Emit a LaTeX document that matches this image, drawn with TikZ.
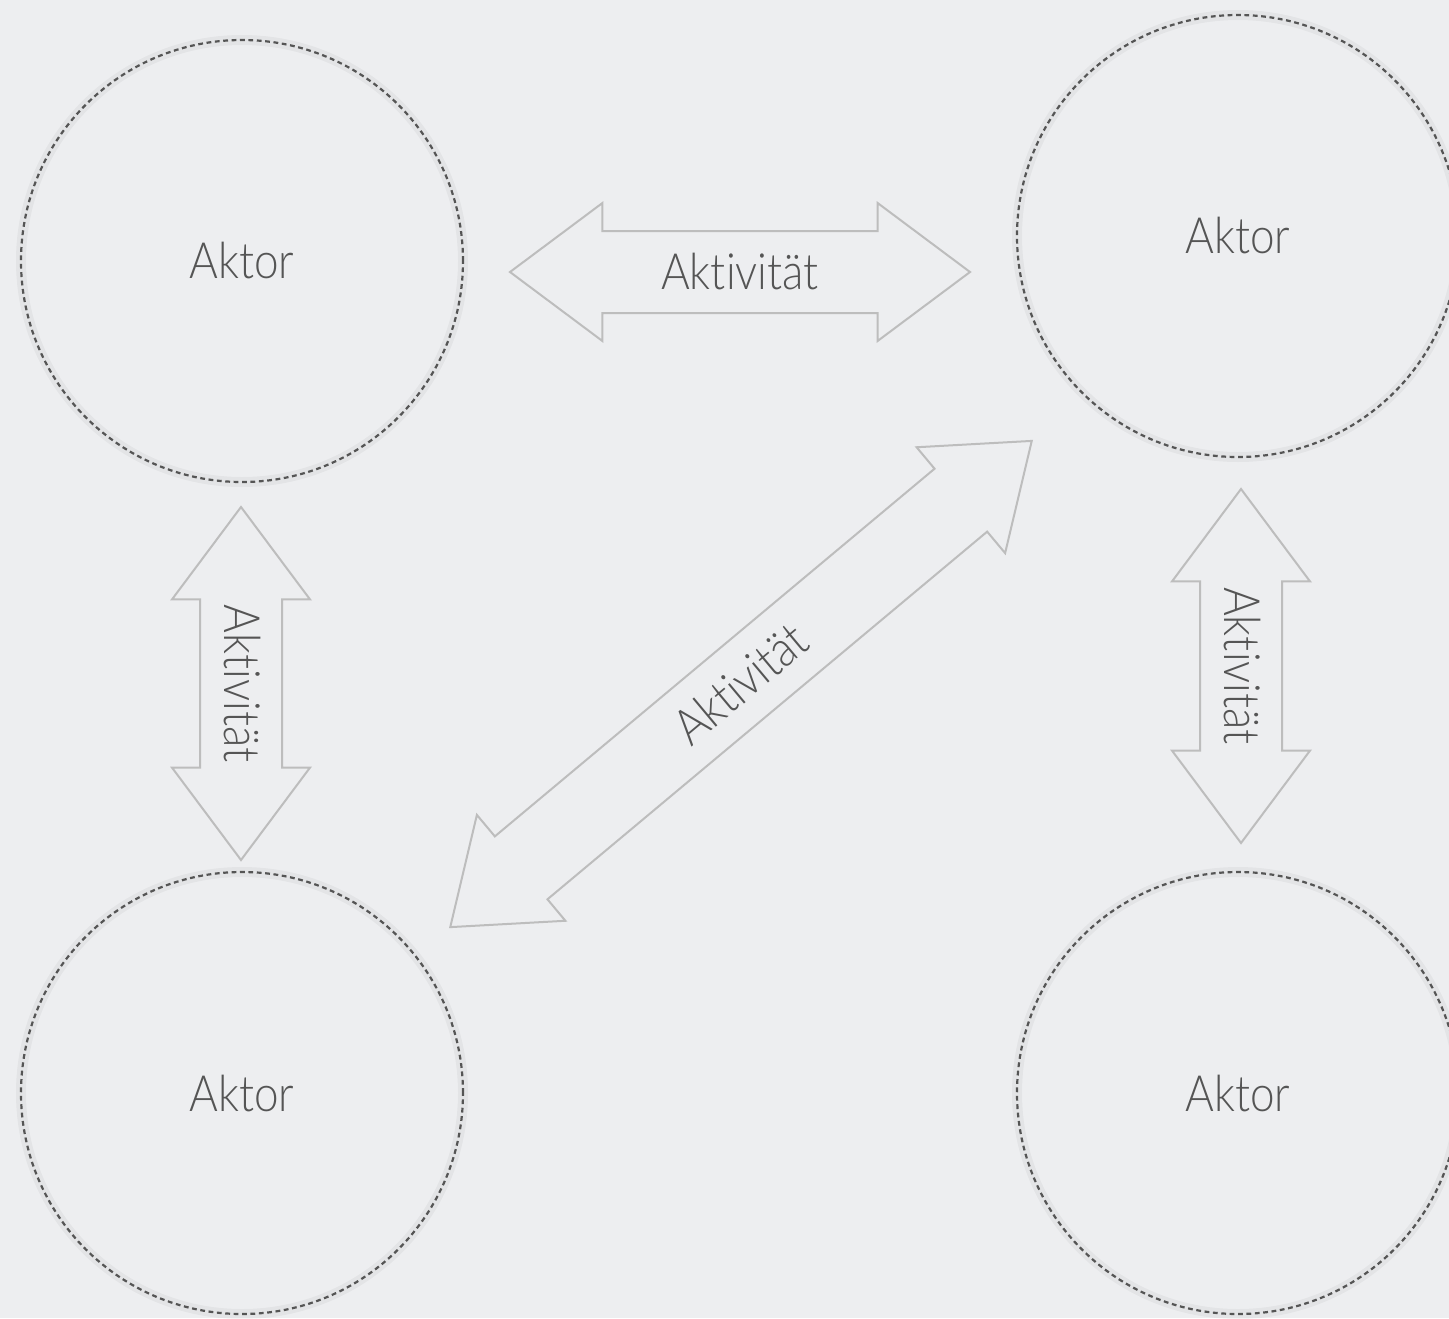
\documentclass[tikz,border=0pt]{standalone}
\usepackage{fontspec}
\setmainfont{Lato Light}[FakeStretch=0.88, Ligatures=NoCommon]
\usetikzlibrary{shapes,backgrounds,positioning}
\definecolor{bgcol}{HTML}{EDEEF0}
\definecolor{txtcol}{HTML}{555555}
\definecolor{pfeilcol}{HTML}{BDBDBD}
\definecolor{kreiscol}{HTML}{555555}
\tikzset{
  aktor/.style={circle, minimum size=221pt, inner sep=0pt, draw=kreiscol, line width=1.1pt,
    dash pattern=on 2.4pt off 1.8pt, text=txtcol, font=\fontsize{25}{30}\selectfont,
    preaction={draw=black, draw opacity=0.04, line width=5pt, solid}},
  aktiv/.style={double arrow, draw=pfeilcol, line width=1pt, minimum width=68pt,
    double arrow head extend=14pt, double arrow tip angle=73.5,
    inner xsep=0pt, inner ysep=11.5pt, text height=17pt, text depth=0pt,
    text=txtcol, font=\fontsize{25}{30}\selectfont},
}
\begin{document}
\begin{tikzpicture}[x=0.5pt,y=-0.5pt]
  \fill[bgcol] (0,0) rectangle (1449,1318);
  \useasboundingbox (0,0) rectangle (1449,1318);
  % Aktoren
  \node[aktor] (a1) at (242,261) {Aktor};
  \node[aktor] (a2) at (1238,236) {Aktor};
  \node[aktor] (a3) at (242,1093) {Aktor};
  \node[aktor] (a4) at (1238,1093) {Aktor};
  % Aktivitaeten
  \node[aktiv, minimum height=230pt] (ak12) at (740,272) {Aktivität};
  \node[aktiv, minimum height=176.5pt, rotate=-90] (ak13) at (241,683.5) {Aktivität};
  \node[aktiv, minimum height=177pt, rotate=-90] (ak24) at (1241,666) {Aktivität};
  \node[aktiv, minimum height=379pt, rotate=39.9] (ak32) at (741,684) {Aktivität};
\end{tikzpicture}
\end{document}
